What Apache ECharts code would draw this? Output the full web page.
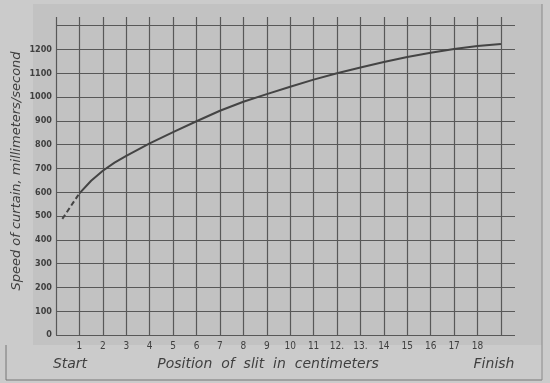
<!DOCTYPE html>
<html>
<head>
<meta charset="utf-8">
<script src="https://cdn.jsdelivr.net/npm/echarts@6/dist/echarts.min.js"></script>
<style>
html,body{margin:0;padding:0;background:#cbcbcb;}
#c{width:550px;height:383px;}
</style>
</head>
<body>
<div id="c"></div>
<script>
// Position of slit (cm) and curtain speed (mm/s)
const positions = [1, 1.5, 2, 2.5, 3, 4, 5, 6, 7, 8, 9, 10, 11, 12, 13, 14, 15, 16, 17, 18, 19];
const speeds = [595, 648, 690, 724, 753, 805, 852, 898, 942, 980, 1012, 1043, 1073, 1100, 1124, 1147, 1168, 1186, 1202, 1214, 1223];
// Extrapolated (dashed) start of curve
const dashPositions = [0.27, 1];
const dashSpeeds = [488, 595];
// Tick labels
const xTickLabels = ['1','2','3','4','5','6','7','8','9','10','11','12.','13.','14','15','16','17','18'];
const yTickLabels = ['0','100','200','300','400','500','600','700','800','900','1000','1100','1200'];

const ink = '#3f3f3f';
const chart = echarts.init(document.getElementById('c'), null, {renderer: 'canvas'});
chart.setOption({
  backgroundColor: '#cbcbcb',
  animation: false,
  grid: {left: 56, right: 35, top: 17, bottom: 48},
  graphic: [
    {type: 'rect', z: -10, shape: {x: 33, y: 4, width: 509, height: 341}, style: {fill: '#c2c2c2'}},
    {type: 'line', z: -9, shape: {x1: 6, y1: 345, x2: 6, y2: 380}, style: {stroke: '#777', lineWidth: 1}},
    {type: 'line', z: -9, shape: {x1: 6, y1: 380, x2: 542, y2: 380}, style: {stroke: '#777', lineWidth: 1}},
    {type: 'line', z: -9, shape: {x1: 542, y1: 4, x2: 542, y2: 380}, style: {stroke: '#8a8a8a', lineWidth: 1}},
    {type: 'text', x: 17, y: 171, rotation: Math.PI / 2,
      style: {text: 'Speed of curtain, millimeters/second', fill: ink, font: 'italic 13px "DejaVu Sans"', align: 'center', verticalAlign: 'middle'}},
    {type: 'text', x: 70, y: 364,
      style: {text: 'Start', fill: ink, font: 'italic 14px "DejaVu Sans"', align: 'center', verticalAlign: 'middle'}},
    {type: 'text', x: 268, y: 364,
      style: {text: 'Position  of  slit  in  centimeters', fill: ink, font: 'italic 14px "DejaVu Sans"', align: 'center', verticalAlign: 'middle'}},
    {type: 'text', x: 494, y: 364,
      style: {text: 'Finish', fill: ink, font: 'italic 14px "DejaVu Sans"', align: 'center', verticalAlign: 'middle'}}
  ],
  xAxis: {
    type: 'value', min: 0, max: 19.6, interval: 1,
    axisLine: {show: false},
    axisTick: {show: false},
    axisLabel: {
      color: ink, fontSize: 10, fontFamily: 'DejaVu Sans Condensed', margin: 6,
      showMaxLabel: false,
      formatter: v => (v >= 1 && v <= 18 && Number.isInteger(v)) ? xTickLabels[v - 1] : ''
    },
    splitLine: {show: true, showMinLine: true, showMaxLine: false, lineStyle: {color: '#585858', width: 1.2}}
  },
  yAxis: {
    type: 'value', min: 0, max: 1336, interval: 100,
    axisLine: {show: false},
    axisTick: {show: false},
    axisLabel: {
      color: ink, fontSize: 9, fontWeight: 'bold', fontFamily: 'DejaVu Sans Condensed', margin: 4,
      showMaxLabel: false,
      formatter: v => (v % 100 === 0 && v / 100 < yTickLabels.length) ? yTickLabels[v / 100] : ''
    },
    splitLine: {show: true, showMinLine: true, showMaxLine: false, lineStyle: {color: '#585858', width: 1.2}}
  },
  series: [
    {
      type: 'line', smooth: false, symbol: 'none',
      data: positions.map((p, i) => [p, speeds[i]]),
      lineStyle: {color: '#444', width: 2, join: 'round'}
    },
    {
      type: 'line', smooth: false, symbol: 'none',
      data: dashPositions.map((p, i) => [p, dashSpeeds[i]]),
      lineStyle: {color: '#444', width: 2, type: [5, 3]}
    }
  ]
});
</script>
</body>
</html>
